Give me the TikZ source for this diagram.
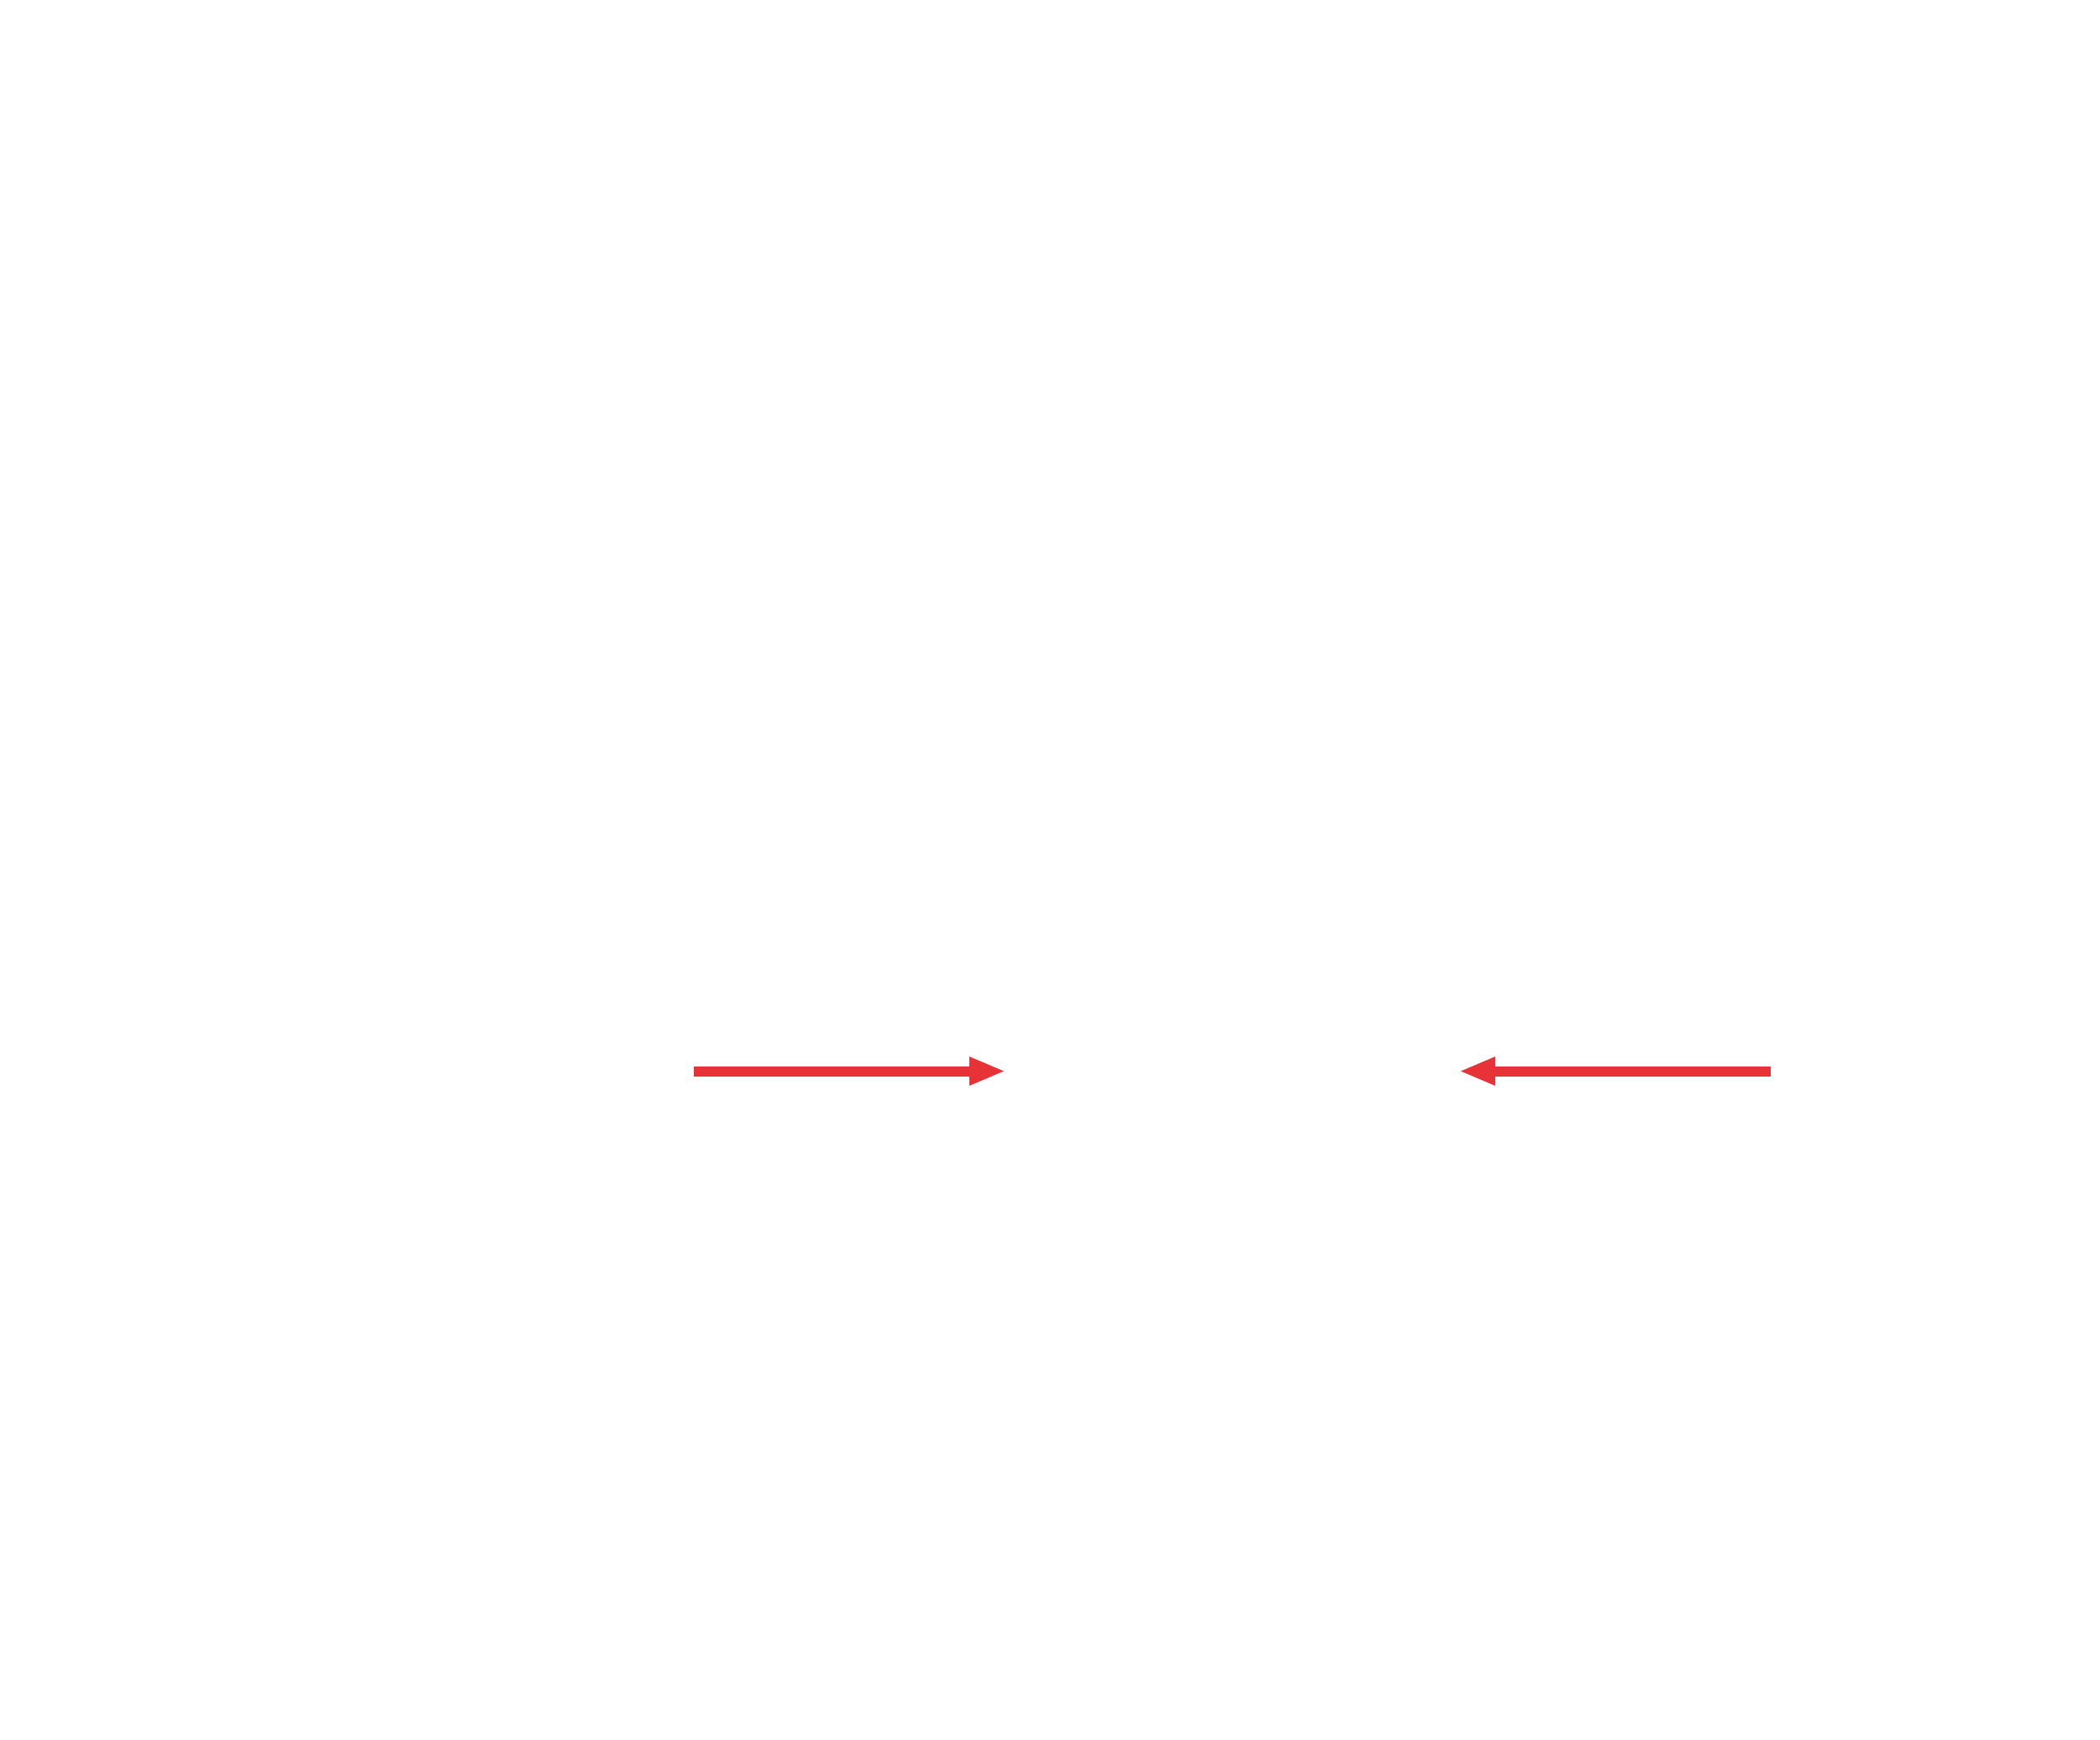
\documentclass[tikz,border=0pt]{standalone}
\usetikzlibrary{arrows.meta}
\definecolor{pushred}{RGB}{231,50,55}
\tikzset{push/.style={draw=pushred, line width=0.12cm, -{Triangle[length=4.3mm, width=3.1mm]}}}
\begin{document}
\begin{tikzpicture}[scale=1.0]
\useasboundingbox (0,0) rectangle (25,-20.71);
\coordinate (leftstart) at (8.26,-12.755);
\coordinate (lefttip) at (11.97,-12.755);
\coordinate (rightstart) at (21.08,-12.755);
\coordinate (righttip) at (17.37,-12.755);

\draw[push] (leftstart) -- (lefttip);
\draw[push] (rightstart) -- (righttip);
\end{tikzpicture}
\end{document}
